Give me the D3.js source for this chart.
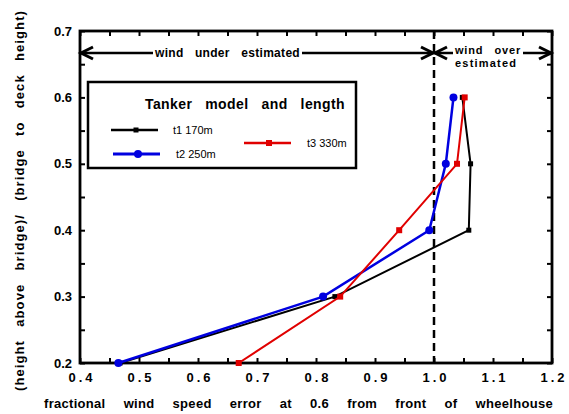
<html><head>
<script src="https://cdnjs.cloudflare.com/ajax/libs/d3/7.8.5/d3.min.js"></script>
<style>
  body { margin: 0; background: white; }
  text { font-family: "Liberation Sans", Arial, sans-serif; }
</style>
</head>
<body>
<svg id="chart" width="569" height="414"></svg>
<script>
  // heights above bridge (y) and fractional wind speed error (x) per tanker
  const heights = [0.2, 0.3, 0.4, 0.5, 0.6];
  const t1 = [0.468, 0.832, 1.059, 1.062, 1.048];
  const t2 = [0.465, 0.812, 0.992, 1.020, 1.033];
  const t3 = [0.669, 0.841, 0.941, 1.039, 1.052];
  const xTicks = d3.range(8, 25).map(i => i * 0.05);
  const yTicks = d3.range(4, 15).map(i => i * 0.05);

  const svg = d3.select("svg#chart");
  const x = d3.scaleLinear().domain([0.4, 1.2]).range([80, 552]);
  const y = d3.scaleLinear().domain([0.2, 0.7]).range([363, 31]);

  const isMajor = d => Math.abs(d * 10 - Math.round(d * 10)) < 1e-6;
  const fmt = d => isMajor(d) ? d3.format(".1f")(d) : "";

  // letter-space a text, then widen the word gaps so it fills a given width
  const fitWords = (sel, target, ls) => {
    sel.attr("letter-spacing", ls + "px");
    const node = sel.node();
    const n = (node.textContent.match(/ /g) || []).length;
    const w = node.getComputedTextLength();
    if (n > 0) sel.attr("word-spacing", Math.max(0, (target - w) / n) + "px");
    return sel;
  };

  // axes with inward ticks
  const bottom = svg.append("g").attr("transform", `translate(0,${y(0.2)})`)
    .call(d3.axisBottom(x).tickValues(xTicks).tickSize(-5).tickPadding(10).tickFormat(fmt));
  bottom.selectAll("text").attr("font-size", 13).attr("font-weight", "bold")
    .attr("letter-spacing", "3px").attr("dx", "1.5px").attr("fill", "black");
  svg.append("g").attr("transform", `translate(0,${y(0.7)})`)
    .call(d3.axisTop(x).tickValues(xTicks).tickSize(-5).tickFormat(""));
  const left = svg.append("g").attr("transform", `translate(${x(0.4)},0)`)
    .call(d3.axisLeft(y).tickValues(yTicks).tickSize(-5).tickPadding(8).tickFormat(fmt));
  left.selectAll("text").attr("font-size", 13).attr("font-weight", "bold").attr("fill", "black");
  svg.append("g").attr("transform", `translate(${x(1.2)},0)`)
    .call(d3.axisRight(y).tickValues(yTicks).tickSize(-5).tickFormat(""));
  svg.selectAll(".domain").remove();
  svg.selectAll(".tick line").attr("stroke", "black").attr("stroke-width", 2);

  svg.append("rect")
    .attr("x", x(0.4)).attr("y", y(0.7))
    .attr("width", x(1.2) - x(0.4)).attr("height", y(0.2) - y(0.7))
    .attr("fill", "none").attr("stroke", "black").attr("stroke-width", 2.8);

  // dashed line at 1.0
  svg.append("line")
    .attr("x1", x(1.0)).attr("x2", x(1.0)).attr("y1", y(0.7)).attr("y2", y(0.2))
    .attr("stroke", "black").attr("stroke-width", 2.5).attr("stroke-dasharray", "8,5");

  // axis titles
  fitWords(svg.append("text").attr("x", 44).attr("y", 408)
    .attr("font-size", 13).attr("font-weight", "bold")
    .text("fractional wind speed error at 0.6 from front of wheelhouse"), 509, 0.3);
  fitWords(svg.append("text").attr("transform", "translate(24,391) rotate(-90)")
    .attr("font-size", 13).attr("font-weight", "bold")
    .text("(height above bridge)/ (bridge to deck height)"), 381, 1.1);

  // under / over estimated annotations
  const ay = 53;
  fitWords(svg.append("text").attr("x", 155).attr("y", 57)
    .attr("font-size", 12).attr("font-weight", "bold")
    .text("wind under estimated"), 145, 0.3);
  fitWords(svg.append("text").attr("x", 455).attr("y", 54)
    .attr("font-size", 11).attr("font-weight", "bold").text("wind over"), 66, 0.8);
  svg.append("text").attr("x", 455).attr("y", 67)
    .attr("font-size", 11).attr("font-weight", "bold")
    .attr("letter-spacing", "1.2px").text("estimated");

  const seg = (a, b) => svg.append("line").attr("x1", a).attr("x2", b)
    .attr("y1", ay).attr("y2", ay).attr("stroke", "black").attr("stroke-width", 2.5);
  seg(x(0.4), 153); seg(302, x(1.0));
  seg(x(1.0), 453); seg(523, x(1.2));
  const head = (tip, dir) => svg.append("path")
    .attr("d", `M${tip + dir * 12},${ay - 6}L${tip},${ay}L${tip + dir * 12},${ay + 6}`)
    .attr("fill", "none").attr("stroke", "black").attr("stroke-width", 3);
  head(x(0.4) + 1, 1); head(x(1.0) - 1, -1); head(x(1.0) + 1, 1); head(x(1.2) - 1, -1);

  // legend
  const lg = svg.append("g");
  lg.append("rect").attr("x", 88).attr("y", 82).attr("width", 268).attr("height", 86)
    .attr("fill", "white").attr("stroke", "black").attr("stroke-width", 2.5);
  fitWords(lg.append("text").attr("x", 145).attr("y", 109)
    .attr("font-size", 14).attr("font-weight", "bold")
    .text("Tanker model and length"), 200, 0.4);

  const series = [
    { name: "t1 170m", vals: t1, color: "black", shape: "square", size: 5, width: 2,
      lx: 111, ly: 130, tx: 173 },
    { name: "t2 250m", vals: t2, color: "#0000e0", shape: "circle", size: 4, width: 2.5,
      lx: 113, ly: 154, tx: 176 },
    { name: "t3 330m", vals: t3, color: "#e00000", shape: "square", size: 6, width: 2,
      lx: 244, ly: 143, tx: 307 }
  ];

  const marker = (g, s, cx, cy) => {
    if (s.shape === "circle") {
      g.append("circle").attr("cx", cx).attr("cy", cy).attr("r", s.size).attr("fill", s.color);
    } else {
      g.append("rect").attr("x", cx - s.size / 2).attr("y", cy - s.size / 2)
        .attr("width", s.size).attr("height", s.size).attr("fill", s.color);
    }
  };

  series.forEach(s => {
    lg.append("line").attr("x1", s.lx).attr("x2", s.lx + 47).attr("y1", s.ly).attr("y2", s.ly)
      .attr("stroke", s.color).attr("stroke-width", s.width + 0.5);
    marker(lg, s, s.lx + 25, s.ly);
    lg.append("text").attr("x", s.tx).attr("y", s.ly + 4).attr("font-size", 11).text(s.name);
  });

  // data lines
  const line = d3.line().x(d => x(d[0])).y(d => y(d[1]));
  series.forEach(s => {
    const pts = s.vals.map((v, i) => [v, heights[i]]);
    svg.append("path").datum(pts).attr("d", line)
      .attr("fill", "none").attr("stroke", s.color).attr("stroke-width", s.width);
    const g = svg.append("g");
    pts.forEach(p => marker(g, s, x(p[0]), y(p[1])));
  });
</script>
</body>
</html>
